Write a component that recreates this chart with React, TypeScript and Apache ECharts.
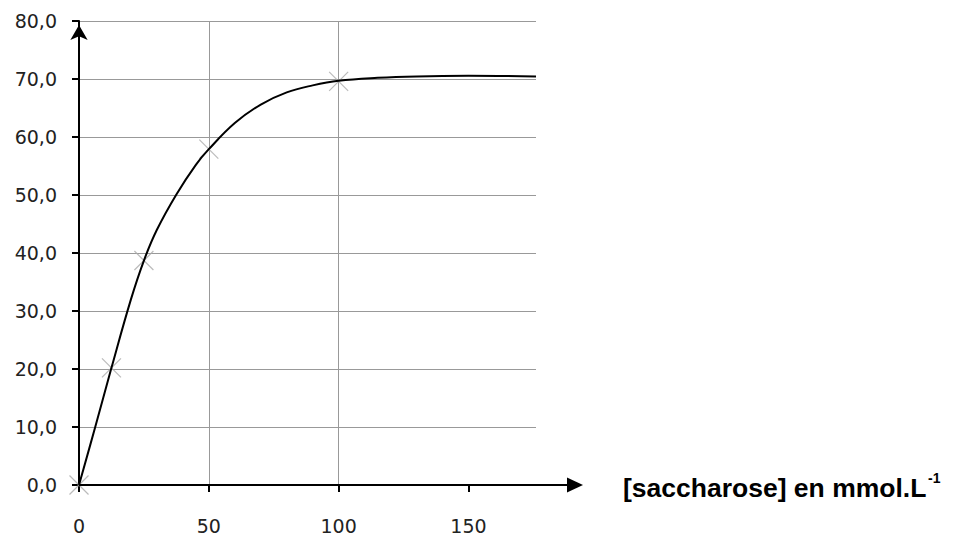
import React, { useEffect, useRef } from "react";
import * as echarts from "echarts";

// Measured points (crosses)
const pointX = [0, 12.5, 25, 50, 100];
const pointY = [0, 20.2, 38.7, 57.9, 69.6];

// Fitted curve
const curveX = [0, 6.25, 12.5, 20, 25, 30, 37.5, 45, 50, 60, 70, 80, 90, 100, 115, 130, 150, 176];
const curveY = [0, 10, 20.2, 32, 38.7, 44, 50.1, 55.2, 57.9, 62.4, 65.6, 67.7, 68.9, 69.7, 70.2, 70.45, 70.55, 70.45];

const xTicks = [0, 50, 100, 150];
const xTitle = "[saccharose] en mmol.L";
const xTitleSup = "-1";

export default function App() {
  const ref = useRef<HTMLDivElement>(null);
  useEffect(() => {
    document.body.style.margin = "0";
    const chart = echarts.init(ref.current!, null, { renderer: "svg" });
    const labelFont = { fontFamily: "DejaVu Sans", fontSize: 19, color: "#222" };
    chart.setOption({
      animation: false,
      backgroundColor: "#fff",
      grid: { left: 79, top: 21, right: 417, bottom: 54, containLabel: false },
      xAxis: {
        type: "value",
        min: 0,
        max: 176,
        interval: 50,
        axisLine: { show: false },
        axisTick: { show: true, length: 7, customValues: xTicks, lineStyle: { color: "#000", width: 2 } },
        axisLabel: { ...labelFont, margin: 31, customValues: xTicks },
        splitLine: { show: true, showMaxLine: false, showMinLine: false, lineStyle: { color: "#999", width: 1 } },
      },
      yAxis: {
        type: "value",
        min: 0,
        max: 80,
        interval: 10,
        axisLine: {
          show: true,
          onZero: false,
          symbol: ["none", "arrow"],
          symbolSize: [13, 15],
          symbolOffset: [0, -4],
          lineStyle: { color: "#000", width: 2 },
        },
        axisTick: { show: true, length: 7, lineStyle: { color: "#000", width: 2 } },
        axisLabel: { ...labelFont, margin: 22, formatter: (v: number) => v.toFixed(1).replace(".", ",") },
        splitLine: { show: true, lineStyle: { color: "#999", width: 1 } },
      },
      graphic: [
        { type: "line", shape: { x1: 79, y1: 485, x2: 569, y2: 485 }, style: { stroke: "#000", lineWidth: 2 }, z: 100 },
        { type: "polygon", shape: { points: [[583, 485], [567, 477.5], [567, 492.5]] }, style: { fill: "#000" }, z: 100 },
        {
          type: "text",
          x: 623,
          y: 488,
          style: { text: xTitle, font: "bold 26.5px 'Liberation Sans', Arial", fill: "#000", verticalAlign: "middle", align: "left" },
        },
        {
          type: "text",
          x: 928,
          y: 471,
          style: { text: xTitleSup, font: "bold 14px 'Liberation Sans', Arial", fill: "#000", verticalAlign: "top", align: "left" },
        },
      ],
      series: [
        {
          type: "line",
          data: curveX.map((x, i) => [x, curveY[i]]),
          smooth: 0.4,
          showSymbol: false,
          lineStyle: { color: "#000", width: 2 },
          z: 3,
        },
        {
          type: "scatter",
          data: pointX.map((x, i) => [x, pointY[i]]),
          symbol: "path://M0 0L10 10M10 0L0 10",
          symbolSize: 19,
          itemStyle: { color: "none", borderColor: "#aaa", borderWidth: 1.2 },
          z: 2,
        },
      ],
    });
    return () => chart.dispose();
  }, []);
  return <div ref={ref} style={{ position: "absolute", left: 0, top: 0, width: 953, height: 539 }} />;
}
